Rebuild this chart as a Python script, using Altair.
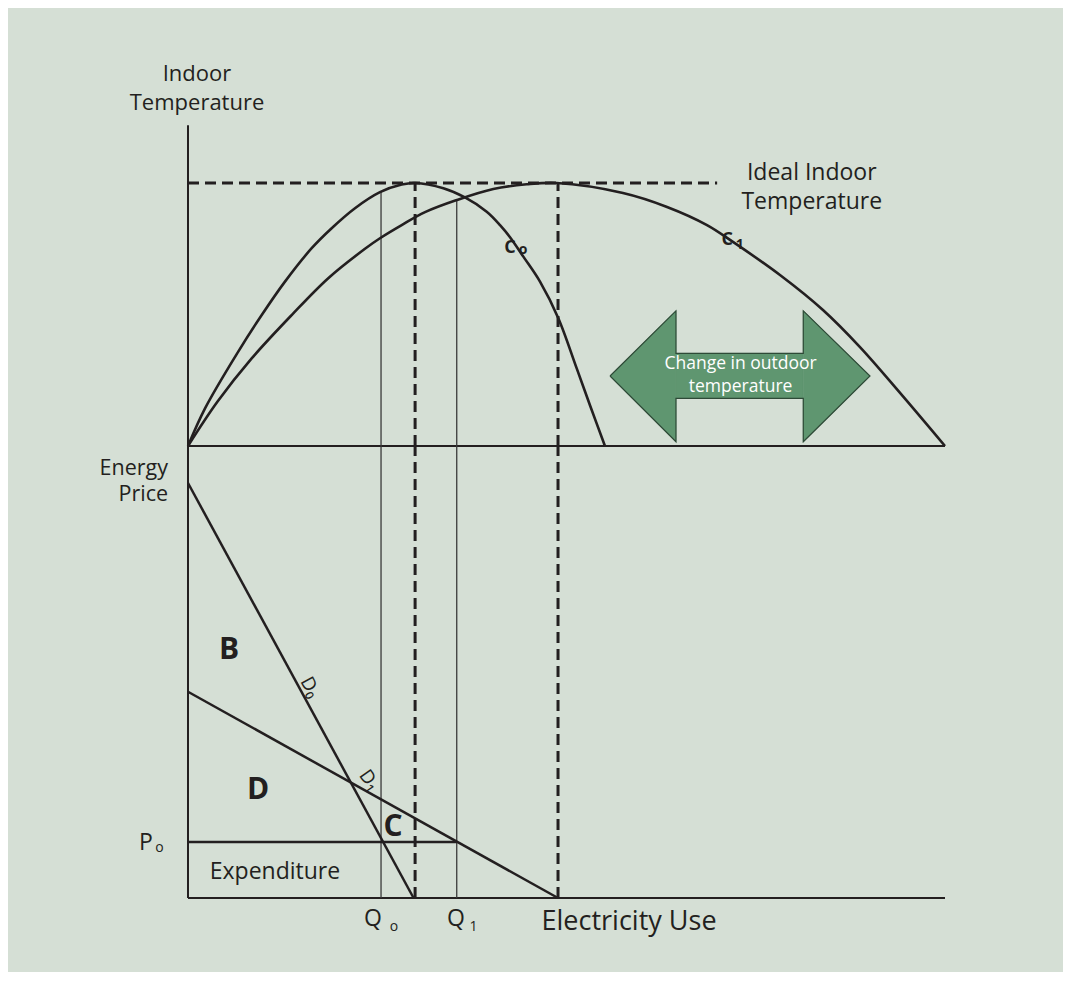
import altair as alt
import pandas as pd

BG = "#d5dfd5"
INK = "#231f20"
ARROW_FILL = "#5f9670"
ARROW_EDGE = "#2e4a37"
FONT = "Open Sans"

# ---------------- data ----------------
# x: electricity use (0-100); top panel: indoor temperature (ideal = 100); bottom panel: energy price
c0_use = [0, 2.25, 6.64, 9.74, 12.81, 16.34, 18.98, 22.06, 25.36, 28.23, 30.0,
          33.73, 36.59, 39.46, 41.22, 42.54, 44.30, 46.50, 48.92, 51.35, 53.10, 55.08]
c0_temp = [0, 14.3, 35.9, 49.8, 62.5, 75.2, 82.8, 90.4, 96.5, 99.4, 100,
           98.0, 94.5, 89.1, 84.0, 79.4, 72.0, 62.5, 48.6, 29.5, 15.5, 0]

c1_use = [0, 3.88, 8.41, 13.70, 18.53, 23.38, 25.36, 28.23, 31.31, 35.50, 40.33, 44.74, 48.71,
          57.46, 63.28, 68.56, 71.99, 78.20, 83.88, 88.77, 94.06, 100]
c1_temp = [0, 16.8, 33.3, 49.8, 63.8, 75.0, 79.0, 84.0, 88.9, 93.5, 97.7, 99.5, 100,
           96.2, 90.9, 84.0, 77.6, 65.0, 51.7, 37.6, 20.2, 0]

d0_use = [0, 29.8]
d0_price = [100, 0]
d1_use = [0, 48.88]
d1_price = [49.7, 0]

p0_price = 13.5
q_use = [25.5, 35.5]          # Q0, Q1
q_temp = [96.7, 93.5]         # where the Q lines meet C0 / C1
opt_use = [30.0, 48.88]       # use at the peaks of C0 / C1
ideal_temp = 100
ideal_line_end = 69.9
temp_axis_top = 122
price_axis_top = 108.9        # price level where the price axis meets the temperature panel
use_axis_end = 100

# double arrow "Change in outdoor temperature"
arrow_part = ["L", "L", "S", "S", "R", "R"]
arrow_use = [55.75, 64.46, 64.46, 81.28, 81.28, 90.09]
arrow_top = [26.6, 51.4, 35.2, 35.2, 51.4, 26.6]
arrow_bot = [26.6, 1.6, 18.1, 18.1, 1.6, 26.6]
outline_use = [55.75, 64.46, 64.46, 81.28, 81.28, 90.09, 81.28, 81.28, 64.46, 64.46, 55.75]
outline_temp = [26.6, 51.4, 35.2, 35.2, 51.4, 26.6, 1.6, 18.1, 18.1, 1.6, 26.6]

# labels
indoor_labels = ["Indoor", "Temperature"]
indoor_lab_use = [1.19, 1.19]
indoor_lab_temp = [141.4, 130.4]

ideal_labels = ["Ideal Indoor", "Temperature"]
ideal_lab_use = [82.4, 82.4]
ideal_lab_temp = [103.8, 92.8]

arrow_labels = ["Change in outdoor", "temperature"]
arrow_lab_use = [73.0, 73.0]
arrow_lab_temp = [31.0, 22.6]

curve_letters = ["C", "C"]
curve_let_use = [42.54, 71.24]
curve_let_temp = [75.3, 78.3]
curve_subs = ["o", "1"]
curve_sub_use = [44.25, 72.9]
curve_sub_temp = [74.5, 76.5]

bottom_labels = ["Expenditure"]
bottom_lab_use = [11.49]
bottom_lab_price = [6.34]

sym_letters = ["P", "Q", "Q"]
sym_let_use = [-5.55, 24.44, 35.4]
sym_let_price = [13.2, -5.0, -5.0]
sym_subs = ["o", "o", "1"]
sym_sub_use = [-3.76, 27.21, 37.7]
sym_sub_price = [12.0, -6.9, -6.9]

price_title = ["Energy", "Price"]
price_title_use = [-2.64, -2.64]
price_title_price = [103.3, 97.0]

area_labels = ["B", "D", "C"]
area_lab_use = [5.42, 9.25, 27.1]
area_lab_price = [59.8, 26.0, 17.2]

demand_labels = ["D₀", "D₁"]
demand_lab_use = [16.12, 23.95]
demand_lab_price = [50.8, 28.4]
demand_lab_angle = [62, 55]

# ---------------- scales ----------------
W, H = 1055, 964
xs = alt.Scale(domain=[-23.778, 115.588], nice=False, zero=False)
ts = alt.Scale(domain=[-200.0, 166.54], nice=False, zero=False)   # temperature panel
ps = alt.Scale(domain=[-17.83, 214.46], nice=False, zero=False)   # price panel


def X(f="x"):
    return alt.X(f"{f}:Q", scale=xs, axis=None)


def YT(f="y"):
    return alt.Y(f"{f}:Q", scale=ts, axis=None)


def YP(f="y"):
    return alt.Y(f"{f}:Q", scale=ps, axis=None)


def rules(rows):
    return pd.DataFrame(rows, columns=["x", "x2", "y", "y2"])


layers = []

# axes (top)
top_axes = rules([[0, 0, 0, temp_axis_top], [0, use_axis_end, 0, 0]])
layers.append(alt.Chart(top_axes).mark_rule(color=INK, strokeWidth=2).encode(
    x=X(), x2="x2:Q", y=YT(), y2="y2:Q"))
# axes (bottom)
bot_axes = rules([[0, 0, 0, price_axis_top], [0, use_axis_end, 0, 0]])
layers.append(alt.Chart(bot_axes).mark_rule(color=INK, strokeWidth=2).encode(
    x=X(), x2="x2:Q", y=YP(), y2="y2:Q"))

# thin Q lines
q_top = rules([[u, u, 0, t] for u, t in zip(q_use, q_temp)])
q_bot = rules([[u, u, 0, price_axis_top] for u in q_use])
layers.append(alt.Chart(q_top).mark_rule(color="#3a3a3a", strokeWidth=1.3).encode(
    x=X(), x2="x2:Q", y=YT(), y2="y2:Q"))
layers.append(alt.Chart(q_bot).mark_rule(color="#3a3a3a", strokeWidth=1.3).encode(
    x=X(), x2="x2:Q", y=YP(), y2="y2:Q"))

# dashed lines
dash = [11, 6]
dash_top = rules([[0, ideal_line_end, ideal_temp, ideal_temp]] + [[u, u, 0, ideal_temp] for u in opt_use])
dash_bot = rules([[u, u, 0, price_axis_top] for u in opt_use])
layers.append(alt.Chart(dash_top).mark_rule(color=INK, strokeWidth=3, strokeDash=dash).encode(
    x=X(), x2="x2:Q", y=YT(), y2="y2:Q"))
layers.append(alt.Chart(dash_bot).mark_rule(color=INK, strokeWidth=3, strokeDash=dash).encode(
    x=X(), x2="x2:Q", y=YP(), y2="y2:Q"))

# C0 / C1 curves
curves = pd.concat([
    pd.DataFrame({"x": c0_use, "y": c0_temp, "c": "C0"}),
    pd.DataFrame({"x": c1_use, "y": c1_temp, "c": "C1"}),
])
layers.append(alt.Chart(curves).mark_line(color=INK, strokeWidth=2.6, interpolate="catmull-rom").encode(
    x=X(), y=YT(), detail="c:N"))

# demand curves and price line
demand = pd.concat([
    pd.DataFrame({"x": d0_use, "y": d0_price, "c": "D0"}),
    pd.DataFrame({"x": d1_use, "y": d1_price, "c": "D1"}),
    pd.DataFrame({"x": [0, q_use[1]], "y": [p0_price, p0_price], "c": "P0"}),
])
layers.append(alt.Chart(demand).mark_line(color=INK, strokeWidth=2.5).encode(
    x=X(), y=YP(), detail="c:N"))

# arrow
arrow_df = pd.DataFrame({"part": arrow_part, "x": arrow_use, "y": arrow_top, "y2": arrow_bot})
layers.append(alt.Chart(arrow_df).mark_area(color=ARROW_FILL, stroke=ARROW_FILL, strokeWidth=0.6, opacity=1).encode(
    x=X(), y=YT(), y2="y2:Q", detail="part:N"))
outline_df = pd.DataFrame({"x": outline_use, "y": outline_temp, "o": list(range(len(outline_use)))})
layers.append(alt.Chart(outline_df).mark_line(color=ARROW_EDGE, strokeWidth=1.2).encode(
    x=X(), y=YT(), order="o:Q"))


def text_layer(labels, xv, yv, yenc, **kw):
    df = pd.DataFrame({"t": labels, "x": xv, "y": yv})
    base = dict(font=FONT, color=INK, baseline="middle", align="center")
    base.update(kw)
    return alt.Chart(df).mark_text(**base).encode(x=X(), y=yenc(), text="t:N")


layers.append(text_layer(indoor_labels, indoor_lab_use, indoor_lab_temp, YT, fontSize=22))
layers.append(text_layer(ideal_labels, ideal_lab_use, ideal_lab_temp, YT, fontSize=23))
layers.append(text_layer(arrow_labels, arrow_lab_use, arrow_lab_temp, YT, fontSize=17.5, color="#ffffff"))
layers.append(text_layer(curve_letters, curve_let_use, curve_let_temp, YT, fontSize=18, fontWeight="bold"))
layers.append(text_layer(curve_subs, curve_sub_use, curve_sub_temp, YT, fontSize=14, fontWeight="bold"))
layers.append(text_layer(bottom_labels, bottom_lab_use, bottom_lab_price, YP, fontSize=23))
layers.append(text_layer(sym_letters, sym_let_use, sym_let_price, YP, fontSize=23))
layers.append(text_layer(sym_subs, sym_sub_use, sym_sub_price, YP, fontSize=14))
layers.append(text_layer(["Electricity Use"], [58.26], [-5.7], YP, fontSize=27))
layers.append(text_layer(price_title, price_title_use, price_title_price, YP, fontSize=21.5, align="right"))
layers.append(text_layer(area_labels, area_lab_use, area_lab_price, YP, fontSize=30, fontWeight="bold"))
for lab, u, p, a in zip(demand_labels, demand_lab_use, demand_lab_price, demand_lab_angle):
    layers.append(text_layer([lab], [u], [p], YP, fontSize=19, angle=a))

chart = alt.layer(*layers).resolve_scale(y="independent").properties(
    width=W, height=H, background=BG, padding=0, autosize=alt.AutoSizeParams(type="none")
).configure_view(stroke=None, fill=BG)

chart.save("out.html", embed_options={"renderer": "svg", "actions": False})
